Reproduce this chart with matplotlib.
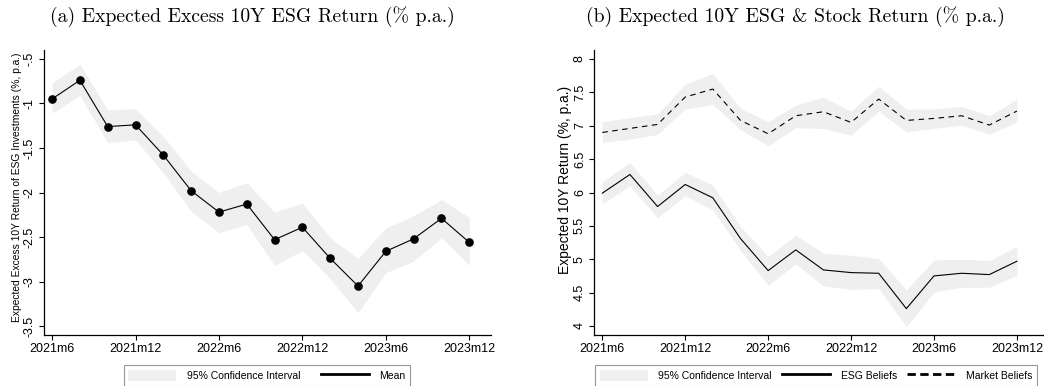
import matplotlib
matplotlib.use("Agg")
import matplotlib.pyplot as plt
from matplotlib.lines import Line2D
from matplotlib.patches import Patch

# ---- data (months since 2021m6, every 2 months) ----
months = list(range(0, 31, 2))

# panel (a): expected excess 10Y ESG return
excess_mean = [-0.95, -0.74, -1.26, -1.24, -1.58, -1.98, -2.22, -2.13,
               -2.53, -2.39, -2.74, -3.05, -2.66, -2.52, -2.29, -2.56]
excess_hi = [-0.77, -0.56, -1.07, -1.06, -1.37, -1.76, -2.00, -1.89,
             -2.22, -2.12, -2.51, -2.74, -2.40, -2.26, -2.08, -2.28]
excess_lo = [-1.11, -0.91, -1.44, -1.41, -1.78, -2.21, -2.45, -2.36,
             -2.82, -2.65, -2.97, -3.35, -2.90, -2.77, -2.51, -2.82]

# panel (b): ESG beliefs and market beliefs
esg_mean = [5.99, 6.27, 5.79, 6.12, 5.92, 5.31, 4.83, 5.14,
            4.84, 4.80, 4.79, 4.26, 4.75, 4.79, 4.77, 4.97]
esg_hi = [6.16, 6.45, 5.96, 6.30, 6.11, 5.49, 5.04, 5.36,
          5.09, 5.06, 5.01, 4.54, 4.99, 5.00, 4.98, 5.19]
esg_lo = [5.83, 6.10, 5.62, 5.95, 5.74, 5.13, 4.61, 4.93,
          4.60, 4.55, 4.56, 3.99, 4.51, 4.58, 4.58, 4.76]

mkt_mean = [6.90, 6.96, 7.02, 7.43, 7.55, 7.08, 6.88, 7.15,
            7.21, 7.05, 7.40, 7.08, 7.11, 7.15, 7.01, 7.22]
mkt_hi = [7.06, 7.12, 7.18, 7.62, 7.78, 7.26, 7.06, 7.31,
          7.43, 7.22, 7.59, 7.25, 7.25, 7.29, 7.15, 7.40]
mkt_lo = [6.75, 6.80, 6.87, 7.25, 7.32, 6.94, 6.70, 6.97,
          6.96, 6.86, 7.22, 6.91, 6.96, 7.01, 6.87, 7.06]

xtick_pos = [0, 6, 12, 18, 24, 30]
xtick_labels = ["2021m6", "2021m12", "2022m6", "2022m12", "2023m6", "2023m12"]

ytick_a = [-3.5, -3, -2.5, -2, -1.5, -1, -0.5]
ytick_a_labels = ["-3.5", "-3", "-2.5", "-2", "-1.5", "-1", "-.5"]
ytick_b = [4, 4.5, 5, 5.5, 6, 6.5, 7, 7.5, 8]
ytick_b_labels = ["4", "4.5", "5", "5.5", "6", "6.5", "7", "7.5", "8"]

band = "#efefef"
sans = "Liberation Sans"
W, H = 1044, 386

plt.rcParams["font.family"] = sans

fig = plt.figure(figsize=(W / 100, H / 100), dpi=100)


def style_axes(ax, yticks, ylabels):
    for s in ["top", "right"]:
        ax.spines[s].set_visible(False)
    for s in ["left", "bottom"]:
        ax.spines[s].set_linewidth(0.9)
    ax.tick_params(direction="out", length=3.8, width=0.8, labelsize=9, pad=2)
    ax.set_xticks(xtick_pos)
    ax.set_xticklabels(xtick_labels)
    ax.set_yticks(yticks)
    ax.set_yticklabels(ylabels, rotation=90, va="center")


# ---- panel (a) ----
axa = fig.add_axes([44 / W, 51 / H, (491 - 44) / W, 285 / H])
axa.fill_between(months, excess_lo, excess_hi, color=band, lw=0)
axa.plot(months, excess_mean, color="black", lw=0.8, marker="o", ms=5.2)
style_axes(axa, ytick_a, ytick_a_labels)
axa.set_xlim(-0.58, 31.56)
axa.set_ylim(-3.60, -0.40)
fig.text(17 / W, 1 - 187 / H,
         "Expected Excess 10Y Return of ESG Investments (%, p.a.)",
         fontsize=7.4, rotation=90, ha="center", va="center")

# ---- panel (b) ----
axb = fig.add_axes([594 / W, 51 / H, (1044 - 594) / W, 285 / H])
axb.fill_between(months, esg_lo, esg_hi, color=band, lw=0)
axb.fill_between(months, mkt_lo, mkt_hi, color=band, lw=0)
axb.plot(months, esg_mean, color="black", lw=0.8)
axb.plot(months, mkt_mean, color="black", lw=0.8, ls=(0, (5, 4)))
style_axes(axb, ytick_b, ytick_b_labels)
axb.set_xlim(-0.6, 31.96)
axb.set_ylim(3.865, 8.135)
fig.text(565 / W, 1 - 180 / H, "Expected 10Y Return (%, p.a.)",
         fontsize=10, rotation=90, ha="center", va="center")

# ---- titles ----
fig.text(252 / W, 1 - 17 / H, "(a) Expected Excess 10Y ESG Return (% p.a.)",
         family="cmr10", fontsize=14.2, ha="center", va="center")
fig.text(795 / W, 1 - 17 / H, "(b) Expected 10Y ESG & Stock Return (% p.a.)",
         family="cmr10", fontsize=14.2, ha="center", va="center")

# ---- legends ----
ci_handle = Patch(facecolor=band, edgecolor="none")
mean_handle = Line2D([], [], color="black", lw=2)
mkt_handle = Line2D([], [], color="black", lw=2, ls=(0, (3, 1.6)))

leg_kw = dict(loc="upper center", ncol=3, fontsize=7.5, frameon=True,
              fancybox=False, edgecolor="#7f7f7f", handlelength=4.6,
              handleheight=1.3, handletextpad=1.0,
              borderpad=0.45, borderaxespad=0)

la = fig.legend([ci_handle, mean_handle],
                ["95% Confidence Interval", "Mean"],
                bbox_to_anchor=(267 / W, 1 - 365 / H), columnspacing=2.0,
                **leg_kw)
la.get_frame().set_linewidth(0.8)
lb = fig.legend([ci_handle, mean_handle, mkt_handle],
                ["95% Confidence Interval", "ESG Beliefs", "Market Beliefs"],
                bbox_to_anchor=(816 / W, 1 - 365 / H), columnspacing=1.0,
                **leg_kw)
lb.get_frame().set_linewidth(0.8)

fig.savefig("out.png", dpi=100)
